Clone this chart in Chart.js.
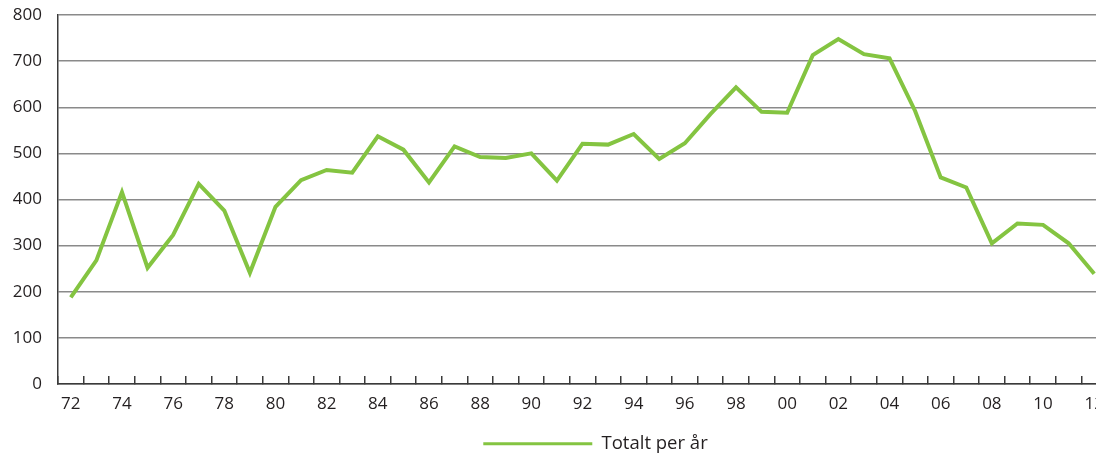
<!DOCTYPE html>
<html>
<head>
<meta charset="utf-8">
<script src="https://cdn.jsdelivr.net/npm/chart.js@4.4.1/dist/chart.umd.min.js"></script>
<style>
  html, body { margin: 0; padding: 0; background: #fff; overflow: hidden; }
  #wrap { position: absolute; left: 0; top: 0; width: 1096px; height: 457px; overflow: hidden; }
</style>
</head>
<body>
<div id="wrap"><canvas id="chart" width="1110" height="457"></canvas></div>
<script>
// År 1972-2012
const years = ['72','73','74','75','76','77','78','79','80','81','82','83','84','85','86','87','88','89','90','91',
  '92','93','94','95','96','97','98','99','00','01','02','03','04','05','06','07','08','09','10','11','12'];
const totaltPerAr = [188,268,416,252,323,434,376,241,384,442,464,458,537,508,437,515,492,490,500,441,
  521,519,542,488,522,585,643,590,588,713,748,715,706,592,448,426,305,348,345,305,239];
const yMin = 0, yMax = 800, yStep = 100;

const green = '#84c441';
const textCol = '#231f20';

// flytter legenden litt, slik som i originalen
const legendShift = {
  id: 'legendShift',
  afterLayout(chart) {
    const lg = chart.legend;
    lg.left += 42; lg.right += 42;
    lg.top += 6; lg.bottom += 6;
  }
};

new Chart(document.getElementById('chart'), {
  type: 'line',
  data: {
    labels: years,
    datasets: [{
      label: 'Totalt per år',
      data: totaltPerAr,
      borderColor: green,
      backgroundColor: green,
      borderWidth: 4,
      borderJoinStyle: 'miter',
      pointRadius: 0,
      tension: 0,
      fill: false
    }]
  },
  options: {
    responsive: false,
    animation: false,
    layout: { padding: { top: 15, right: 3, left: 0, bottom: 0 } },
    plugins: {
      tooltip: { enabled: false },
      legend: {
        position: 'bottom',
        labels: {
          color: textCol,
          font: { family: 'Open Sans', size: 18.5 },
          boxWidth: 109,
          boxHeight: 3,
          padding: 6,
          generateLabels(chart) {
            return Chart.defaults.plugins.legend.labels.generateLabels(chart)
              .map(it => Object.assign(it, { lineWidth: 0, fillStyle: green }));
          }
        }
      }
    },
    scales: {
      x: {
        offset: true,
        afterFit(s) { s.height = 38.5; s.paddingLeft = 0; s.paddingRight = 0; },
        grid: {
          display: true,
          offset: true,
          drawOnChartArea: false,
          drawTicks: true,
          tickLength: -8,
          color: '#3a3a3a',
          lineWidth: 1.5
        },
        border: { display: true, color: '#3a3a3a', width: 1.5 },
        ticks: {
          autoSkip: false,
          maxRotation: 0,
          padding: 18,
          color: textCol,
          font: { family: 'Open Sans', size: 17 },
          callback: (v, i) => (i % 2 === 0 ? years[i] : '')
        }
      },
      y: {
        min: yMin,
        max: yMax,
        afterFit(s) { s.width = 58; s.paddingTop = 0; s.paddingBottom = 0; },
        grid: { color: '#8a8a8a', lineWidth: 1.5, drawTicks: false },
        border: { display: true, color: '#3a3a3a', width: 1.5 },
        ticks: {
          stepSize: yStep,
          padding: 16,
          color: textCol,
          font: { family: 'Open Sans', size: 17 }
        }
      }
    }
  },
  plugins: [legendShift]
});
</script>
</body>
</html>
